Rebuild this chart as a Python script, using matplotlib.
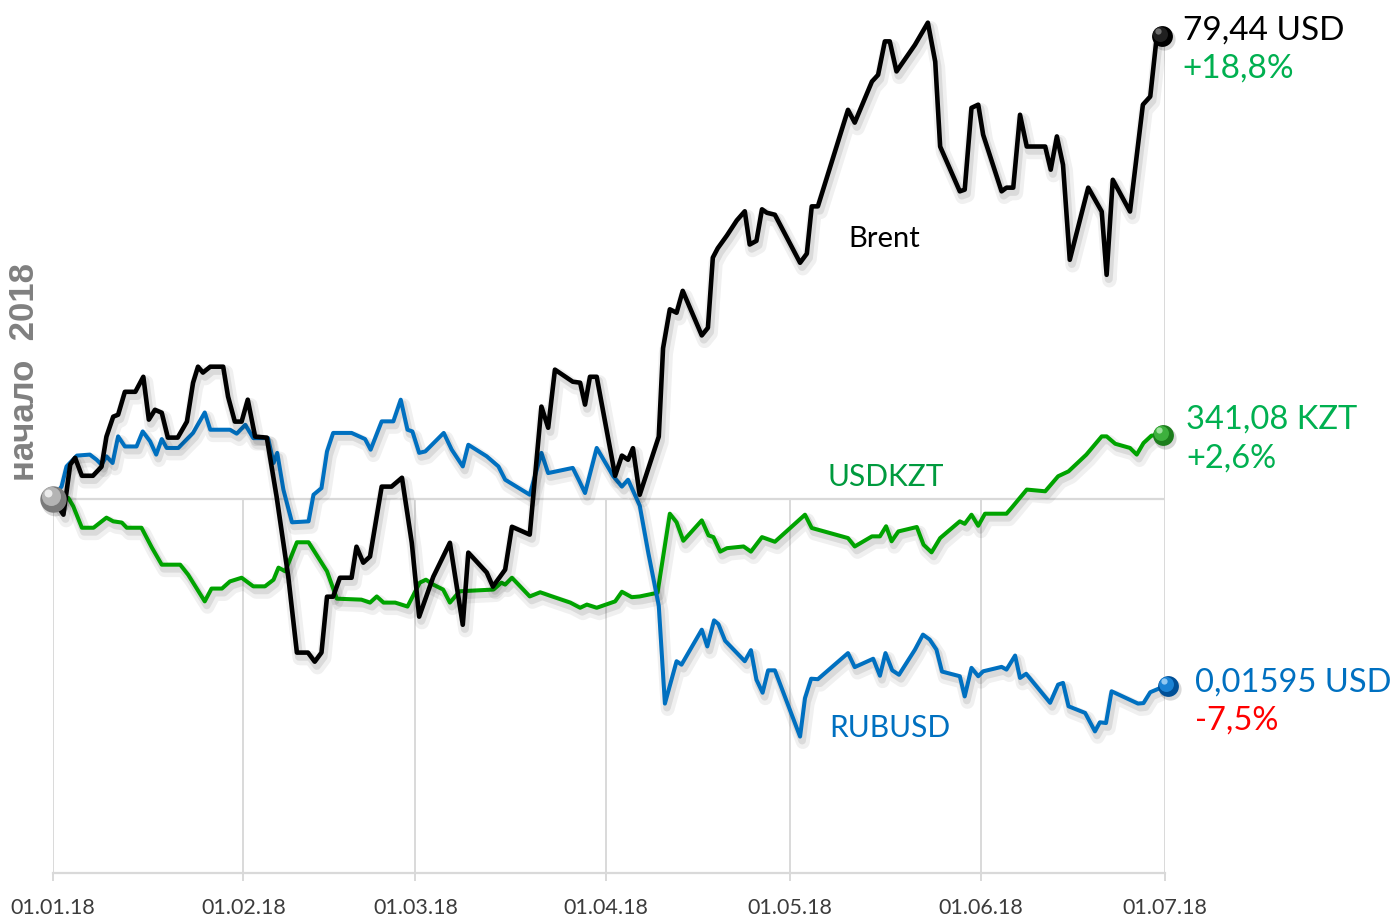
import matplotlib
matplotlib.use("Agg")
import matplotlib.pyplot as plt
import matplotlib.patheffects as pe
import matplotlib.transforms as mtransforms

plt.rcParams['font.family'] = ['Lato', 'DejaVu Sans']

# x = days since 01.01.18, y = change since start of 2018, %
brent_day = [0, 1.7, 2.8, 3.6, 4.7, 6.5, 7.9, 8.7, 9.8, 10.6,
             11.7, 13.4, 14.7, 15.6, 16.6, 17.7, 18.7, 20.3, 21.8, 22.8,
             23.6, 24.4, 25.6, 27.7, 28.5, 29.6, 30.7, 31.7, 32.9, 34.8,
             36.4, 38.3, 39.7, 41.5, 42.6, 43.7, 44.6, 45.6, 46.7, 48.6,
             49.4, 50.5, 51.6, 53.5, 55.1, 56.8, 58.4, 59.6, 61.9, 64.6,
             66.7, 67.6, 70.6, 71.6, 73.6, 74.7, 77.6, 79.5, 80.6, 81.7,
             84.6, 85.8, 86.6, 87.4, 88.5, 91.5, 92.6, 93.6, 94.4, 95.5,
             98.6, 99.3, 100.4, 101.5, 102.5, 105.6, 106.6, 107.4, 108.2, 109.7,
             111.3, 112.6, 113.4, 114.5, 115.4, 116.2, 117.5, 121.6, 122.7, 123.5,
             124.5, 129.4, 130.5, 133.3, 134.3, 135.4, 136.2, 137.3, 140.3, 142.4,
             143.6, 144.4, 147.6, 148.4, 149.5, 150.6, 151.4, 154.4, 155.2, 156.3,
             157.4, 158.5, 161.5, 162.4, 163.4, 164.4, 165.5, 168.5, 170.7, 171.5,
             172.5, 175.3, 177.4, 178.6, 179.6, 180.5]
brent_pct = [0, -0.65, 1.38, 1.66, 0.93, 0.93, 1.30, 2.52, 3.33, 3.41,
             4.34, 4.34, 4.95, 3.21, 3.61, 3.49, 2.48, 2.48, 3.13, 4.71,
             5.36, 5.12, 5.36, 5.36, 4.14, 3.13, 3.13, 4.02, 2.52, 2.48,
             0.08, -3.17, -6.25, -6.25, -6.62, -6.25, -3.98, -3.98, -3.21, -3.21,
             -1.95, -2.60, -2.35, 0.49, 0.49, 0.85, -1.79, -4.79, -3.17, -1.79,
             -5.12, -2.19, -3.00, -3.57, -2.88, -1.14, -1.46, 3.74, 2.88, 5.24,
             4.75, 4.71, 3.82, 4.95, 4.95, 0.93, 1.75, 1.58, 2.05, 0.16,
             2.52, 6.11, 7.69, 7.55, 8.44, 6.63, 6.94, 9.79, 10.17, 10.69,
             11.30, 11.67, 10.32, 10.47, 11.75, 11.61, 11.53, 9.58, 9.95, 11.87,
             11.87, 15.79, 15.27, 16.94, 17.21, 18.57, 18.57, 17.35, 18.43, 19.33,
             17.75, 14.30, 12.48, 12.55, 15.87, 16.00, 14.78, 12.48, 12.63, 12.63,
             15.59, 14.30, 14.30, 13.36, 14.71, 13.56, 9.70, 12.63, 11.66, 9.09,
             12.95, 11.66, 16.00, 16.33, 18.64, 18.8]

kzt_day = [0, 2.5, 3.3, 4.7, 6.6, 8.7, 9.8, 11.2, 12.0, 14.4,
           16.1, 17.7, 20.7, 22.0, 24.7, 25.8, 27.5, 28.8, 30.7, 32.6,
           34.5, 35.9, 36.7, 37.8, 39.7, 41.6, 43.2, 44.6, 46.2, 50.2,
           51.6, 52.7, 53.8, 55.7, 57.7, 59.7, 60.7, 61.9, 63.5, 64.6,
           66.2, 71.7, 73.0, 73.6, 74.7, 77.6, 79.3, 80.9, 84.2, 85.8,
           86.9, 88.5, 91.5, 92.6, 94.2, 95.5, 98.4, 100.4, 101.5, 102.6,
           105.6, 106.7, 107.5, 108.6, 109.7, 112.4, 113.6, 115.4, 117.5, 122.4,
           123.5, 129.4, 130.5, 133.3, 134.6, 135.6, 136.5, 137.6, 140.6, 141.7,
           143.0, 144.4, 147.6, 148.4, 149.5, 150.6, 151.7, 155.2, 156.0, 158.5,
           161.5, 163.6, 165.3, 168.2, 170.7, 171.5, 172.9, 175.3, 176.4, 177.5,
           178.8, 180.7]
kzt_pct = [0, 0.03, -0.31, -1.18, -1.18, -0.77, -0.92, -0.97, -1.18, -1.18,
           -1.99, -2.68, -2.68, -3.09, -4.17, -3.65, -3.65, -3.36, -3.21, -3.56,
           -3.56, -3.29, -2.80, -2.95, -1.77, -1.77, -2.40, -2.95, -4.06, -4.10,
           -4.22, -3.97, -4.22, -4.22, -4.38, -3.41, -3.29, -3.49, -3.69, -4.22,
           -3.76, -3.69, -3.41, -3.49, -3.21, -3.97, -3.80, -3.94, -4.22, -4.43,
           -4.30, -4.43, -4.17, -3.78, -4.00, -3.97, -3.82, -0.61, -0.96, -1.71,
           -0.88, -1.49, -1.56, -2.15, -2.01, -1.94, -2.15, -1.56, -1.75, -0.65,
           -1.19, -1.60, -1.94, -1.53, -1.53, -1.12, -1.73, -1.33, -1.15, -1.87,
           -2.18, -1.60, -0.92, -1.02, -0.65, -1.10, -0.61, -0.61, -0.38, 0.37,
           0.30, 0.91, 1.11, 1.79, 2.53, 2.53, 2.23, 2.06, 1.79, 2.26,
           2.56, 2.6]

rub_day = [0, 1.4, 2.2, 3.9, 6.0, 7.1, 7.9, 8.7, 9.7, 10.6,
           11.7, 13.6, 14.6, 15.8, 16.8, 17.7, 18.5, 20.4, 22.8, 24.7,
           25.6, 28.8, 29.9, 31.3, 32.6, 35.0, 35.9, 36.5, 37.5, 38.9,
           41.6, 42.4, 43.7, 44.6, 45.6, 48.6, 50.8, 51.7, 53.5, 55.4,
           56.6, 57.7, 58.5, 59.6, 60.6, 63.6, 64.9, 66.7, 67.6, 70.6,
           72.5, 73.6, 77.6, 79.5, 80.6, 84.6, 85.7, 86.6, 88.5, 91.2,
           92.6, 93.6, 95.5, 96.9, 98.6, 99.6, 101.5, 102.3, 105.6, 106.5,
           107.6, 108.3, 109.4, 112.6, 113.6, 114.5, 115.5, 116.4, 117.5, 121.6,
           122.4, 123.4, 124.5, 129.4, 130.5, 133.5, 134.6, 135.5, 136.6, 137.7,
           140.3, 141.6, 142.7, 143.8, 144.7, 147.6, 148.4, 149.5, 150.6, 151.4,
           154.4, 155.2, 156.6, 157.4, 158.4, 162.3, 163.6, 164.4, 165.3, 168.0,
           169.6, 170.4, 171.4, 172.3, 176.6, 177.5, 178.6, 180.2, 181.5]
rub_pct = [0, 0.50, 1.31, 1.75, 1.79, 1.58, 1.38, 1.72, 1.45, 2.53,
           2.12, 2.12, 2.73, 2.33, 1.79, 2.42, 2.06, 2.06, 2.67, 3.50,
           2.80, 2.80, 2.64, 3.00, 2.46, 2.46, 1.45, 1.86, 0.37, -0.96,
           -0.92, 0.16, 0.43, 1.92, 2.67, 2.67, 2.42, 1.99, 3.14, 3.14,
           4.02, 2.80, 2.73, 1.86, 1.92, 2.67, 1.99, 1.31, 2.19, 1.72,
           1.31, 0.77, 0.16, 1.86, 1.04, 1.25, 0.70, 0.23, 2.06, 0.91,
           0.49, 0.77, -0.28, -2.20, -4.34, -8.32, -6.60, -6.74, -5.32, -6.00,
           -4.94, -5.09, -5.77, -6.60, -6.15, -7.35, -7.88, -6.97, -6.97, -9.66,
           -8.10, -7.31, -7.33, -6.27, -6.84, -6.50, -7.19, -6.27, -6.97, -7.15,
           -6.13, -5.52, -5.72, -6.13, -7.02, -7.21, -8.03, -6.87, -7.21, -7.01,
           -6.83, -6.94, -6.37, -7.28, -7.11, -8.29, -7.55, -7.48, -8.43, -8.70,
           -9.45, -9.08, -9.11, -7.82, -8.32, -8.30, -7.86, -7.69, -7.6]

month_days = [0, 31, 59, 90, 120, 151, 181]
month_labels = ["01.01.18", "01.02.18", "01.03.18", "01.04.18", "01.05.18", "01.06.18", "01.07.18"]

GRID = "#d9d9d9"
BLACK = "#000000"
GREEN_LINE = "#00a300"
GREEN_TEXT = "#00b050"
GREEN_NAME = "#009a3e"
BLUE = "#0070c0"
RED = "#ff0000"

fig = plt.figure(figsize=(13.92, 9.17), dpi=100)
ax = fig.add_axes([53 / 1392, 44 / 917, (1165 - 53) / 1392, 873 / 917])
ax.set_xlim(0, 181)
ax.set_ylim(-15.2, 20.25)

for s in ["top", "left", "right"]:
    ax.spines[s].set_visible(False)
ax.spines["bottom"].set_color(GRID)
ax.spines["bottom"].set_linewidth(1.6)
ax.set_yticks([])
ax.set_xticks(month_days)
ax.set_xticklabels(month_labels)
ax.tick_params(axis="x", length=6, width=1.4, color=GRID, labelsize=15.5,
               labelcolor="#3c3c3c", pad=12)

# gridlines: months below zero, zero line, end-of-period line
ax.vlines(month_days[:-1], -15.2, 0, color=GRID, lw=1.4, zorder=1)
ax.vlines(181, -15.2, 18.6, color=GRID, lw=1.4, zorder=1)
ax.hlines(0, 0, 181, color=GRID, lw=1.6, zorder=1)

def shadow(lw):
    return [pe.SimpleLineShadow(offset=(2, -4), shadow_color="k", alpha=0.06, linewidth=lw + 7),
            pe.SimpleLineShadow(offset=(1.5, -3), shadow_color="k", alpha=0.09, linewidth=lw + 2.5),
            pe.Normal()]

ax.plot(kzt_day, kzt_pct, color=GREEN_LINE, lw=2.9, zorder=3, path_effects=shadow(2.9))
ax.plot(rub_day, rub_pct, color=BLUE, lw=2.9, zorder=4, path_effects=shadow(2.9))
ax.plot(brent_day, brent_pct, color=BLACK, lw=3.3, zorder=5, path_effects=shadow(3.3))


def ball(x, y, dark, mid, light, size):
    off = lambda dx, dy: mtransforms.offset_copy(ax.transData, fig=fig, x=dx, y=dy, units="dots")
    ax.plot(x, y, "o", ms=size + 1, color="k", alpha=0.15, mew=0,
            transform=off(2, -3), clip_on=False, zorder=9)
    ax.plot(x, y, "o", ms=size, color=dark, mew=0, clip_on=False, zorder=10)
    ax.plot(x, y, "o", ms=size * 0.72, color=mid, mew=0,
            transform=off(-size * 0.12, size * 0.12), clip_on=False, zorder=11)
    ax.plot(x, y, "o", ms=size * 0.3, color=light, mew=0, alpha=0.9,
            transform=off(-size * 0.28, size * 0.3), clip_on=False, zorder=12)


ball(0, 0, "#7a7a7a", "#b4b4b4", "#f2f2f2", 19)
ball(brent_day[-1], brent_pct[-1], "#000000", "#202020", "#777777", 15)
ball(kzt_day[-1], kzt_pct[-1], "#1c7d1c", "#3db03d", "#a8e6a8", 15)
ball(rub_day[-1], rub_pct[-1], "#004f96", "#1a82d4", "#9fd0f5", 15)

# end labels
ax.text(183.9, 19.0, "79,44 USD", color=BLACK, fontsize=24, va="center", ha="left", clip_on=False)
ax.text(183.9, 17.45, "+18,8%", color=GREEN_TEXT, fontsize=24, va="center", ha="left", clip_on=False)
ax.text(184.4, 3.2, "341,08 KZT", color=GREEN_TEXT, fontsize=23.5, va="center", ha="left", clip_on=False)
ax.text(184.4, 1.65, "+2,6%", color=GREEN_TEXT, fontsize=23.5, va="center", ha="left", clip_on=False)
ax.text(185.9, -7.45, "0,01595 USD", color=BLUE, fontsize=23.5, va="center", ha="left", clip_on=False)
ax.text(185.9, -9.0, "-7,5%", color=RED, fontsize=23.5, va="center", ha="left", clip_on=False)

# series names
ax.text(129.4, 10.55, "Brent", color=BLACK, fontsize=21, va="center", ha="left")
ax.text(126.1, 0.9, "USDKZT", color=GREEN_NAME, fontsize=21.5, va="center", ha="left")
ax.text(126.3, -9.3, "RUBUSD", color=BLUE, fontsize=21.5, va="center", ha="left")

fig.text(25 / 1392, 1 - 372 / 917, "начало  2018", rotation=90, color="#808080",
         fontsize=25, fontweight="bold", family=["Liberation Sans", "DejaVu Sans"],
         ha="center", va="center")

fig.savefig("out.png", dpi=100)
